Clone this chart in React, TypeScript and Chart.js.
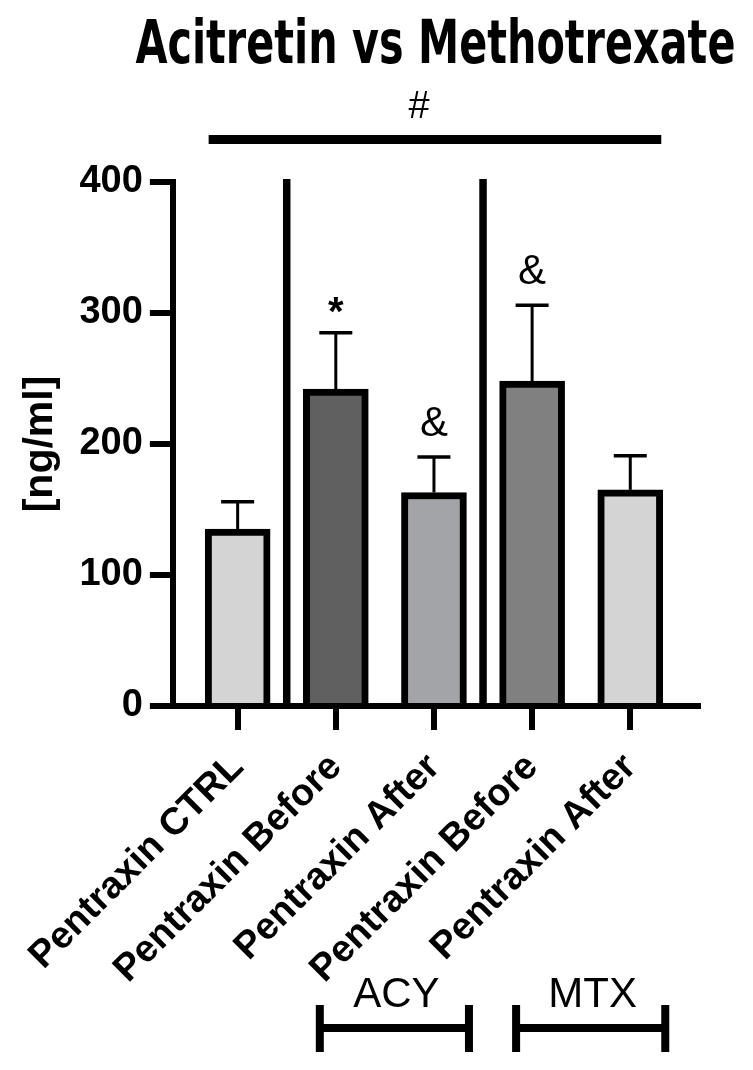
import React, { useEffect, useRef } from "react";
import { Chart, registerables } from "chart.js";

Chart.register(...registerables);

const categories = [
  "Pentraxin CTRL",
  "Pentraxin Before",
  "Pentraxin After",
  "Pentraxin Before",
  "Pentraxin After",
];
const means = [135, 242, 163, 248, 165];
const errors = [21, 43, 27, 58, 26];
const markers = ["", "*", "&", "&", ""];
const yTicks = [0, 100, 200, 300, 400];
const barColors = ["#d4d4d4", "#606060", "#a3a4a8", "#808080", "#d4d4d4"];
const separators = [0.5, 2.5];
const groups = [
  { label: "ACY", from: 1, to: 2 },
  { label: "MTX", from: 3, to: 4 },
];
const overallMark = "#";
const titleText = "Acitretin vs Methotrexate";
const yTitle = "[ng/ml]";

const SANS = '"Liberation Sans", Arial, sans-serif';
const NARROW = '"Liberation Sans Narrow", "Arial Narrow", "DejaVu Sans Condensed", sans-serif';

const overlayPlugin = {
  id: "overlay",
  afterDatasetsDraw(chart: any) {
    const ctx = chart.ctx;
    const xs = chart.scales.x;
    const ys = chart.scales.y;
    const area = chart.chartArea;
    const meta = chart.getDatasetMeta(0);
    ctx.save();
    ctx.strokeStyle = "#000";
    ctx.fillStyle = "#000";
    ctx.lineCap = "butt";

    // title (real text, condensed face fitted to the reference width)
    ctx.save();
    ctx.font = `bold 60px ${NARROW}`;
    ctx.textAlign = "center";
    ctx.textBaseline = "alphabetic";
    const w = ctx.measureText(titleText).width || 1;
    const sx = 600 / w;
    ctx.translate((area.left + area.right) / 2, 63);
    ctx.scale(sx, 1);
    ctx.fillText(titleText, 0, 0);
    ctx.restore();

    // separators
    ctx.lineWidth = 7.5;
    separators.forEach((s) => {
      const px = xs.getPixelForValue(s);
      ctx.beginPath();
      ctx.moveTo(px, area.top - 3);
      ctx.lineTo(px, area.bottom);
      ctx.stroke();
    });

    // error bars + markers
    means.forEach((m, i) => {
      const bar = meta.data[i];
      const px = bar.x;
      const top = ys.getPixelForValue(m + errors[i]);
      ctx.lineWidth = 3;
      ctx.beginPath();
      ctx.moveTo(px, bar.y);
      ctx.lineTo(px, top);
      ctx.stroke();
      ctx.lineWidth = 3.5;
      ctx.beginPath();
      ctx.moveTo(px - 16.5, top);
      ctx.lineTo(px + 16.5, top);
      ctx.stroke();
      const mk = markers[i];
      if (mk) {
        ctx.textAlign = "center";
        ctx.textBaseline = "alphabetic";
        if (mk === "*") {
          ctx.font = `bold 40px ${SANS}`;
          ctx.fillText(mk, px, top - 8);
        } else {
          ctx.font = `42px ${SANS}`;
          ctx.fillText(mk, px, top - 21);
        }
      }
    });

    // overall comparison line with '#'
    const x0 = xs.getPixelForValue(0) - 29;
    const x1 = xs.getPixelForValue(categories.length - 1) + 31;
    ctx.lineWidth = 9;
    ctx.beginPath();
    ctx.moveTo(x0, 139.5);
    ctx.lineTo(x1, 139.5);
    ctx.stroke();
    ctx.font = `38px ${SANS}`;
    ctx.textAlign = "center";
    ctx.textBaseline = "alphabetic";
    ctx.fillText(overallMark, (x0 + x1) / 2 - 16, 118);

    // group brackets
    groups.forEach((g) => {
      const a = xs.getPixelForValue(g.from) - 16;
      const b = xs.getPixelForValue(g.to) + 35;
      ctx.lineWidth = 8;
      ctx.beginPath();
      ctx.moveTo(a, 1028);
      ctx.lineTo(b, 1028);
      ctx.moveTo(a, 1005);
      ctx.lineTo(a, 1052);
      ctx.moveTo(b, 1005);
      ctx.lineTo(b, 1052);
      ctx.stroke();
      ctx.font = `42px ${SANS}`;
      ctx.textAlign = "center";
      ctx.fillText(g.label, (a + b) / 2 + 2, 1007);
    });
    ctx.restore();
  },
};

export default function App() {
  const ref = useRef<HTMLCanvasElement | null>(null);
  useEffect(() => {
    document.body.style.margin = "0";
    const canvas = ref.current;
    if (!canvas) return;
    let alive = true;
    const chart = new Chart(canvas, {
      type: "bar",
      data: {
        datasets: [
          {
            data: means.map((v, i) => ({ x: i, y: v })),
            backgroundColor: barColors,
            borderColor: "#000",
            borderWidth: 7,
            borderSkipped: "start",
            barThickness: 65,
          },
        ],
      },
      options: {
        responsive: false,
        animation: false,
        devicePixelRatio: 1,
        layout: { padding: { top: 182, left: 0, right: 55, bottom: 0 } },
        plugins: {
          legend: { display: false },
          tooltip: { enabled: false },
          title: { display: false },
        },
        scales: {
          x: {
            type: "linear",
            offset: false,
            min: -0.66,
            max: 4.69,
            afterBuildTicks: (scale: any) => {
              scale.ticks = categories.map((_, i) => ({ value: i }));
            },
            afterFit: (scale: any) => {
              scale.height = 1070 - 706;
            },
            grid: {
              display: true,
              offset: false,
              drawOnChartArea: false,
              drawTicks: true,
              tickLength: 24,
              lineWidth: 6,
              color: "#000",
            },
            border: { display: true, width: 6, color: "#000" },
            ticks: {
              autoSkip: false,
              includeBounds: false,
              maxRotation: 45,
              minRotation: 45,
              padding: 15,
              color: "#000",
              font: { family: SANS, size: 38, weight: "bold" },
              callback: (v: any) => categories[v] ?? "",
            },
          },
          y: {
            min: 0,
            max: 400,
            afterBuildTicks: (scale: any) => {
              scale.ticks = yTicks.map((v) => ({ value: v }));
            },
            afterFit: (scale: any) => {
              scale.width = 171;
            },
            grid: {
              display: true,
              drawOnChartArea: false,
              drawTicks: true,
              tickLength: 23,
              lineWidth: 6,
              color: "#000",
            },
            border: { display: true, width: 6, color: "#000" },
            ticks: {
              padding: 7,
              color: "#000",
              font: { family: SANS, size: 38, weight: "bold" },
            },
            title: {
              display: true,
              text: yTitle,
              color: "#000",
              font: { family: SANS, size: 41, weight: "bold" },
              padding: { top: 14, bottom: 0 },
            },
          },
        },
      },
      plugins: [overlayPlugin],
    });
    const fonts = [
      'bold 60px "Liberation Sans Narrow"',
      'bold 38px "Liberation Sans"',
      '42px "Liberation Sans"',
    ];
    if ((document as any).fonts && (document as any).fonts.load) {
      Promise.all(fonts.map((f) => (document as any).fonts.load(f)))
        .catch(() => null)
        .then(() => {
          if (alive) chart.update();
        });
    }
    return () => {
      alive = false;
      chart.destroy();
    };
  }, []);
  return (
    <div style={{ width: 753, height: 1070, background: "#fff" }}>
      <canvas ref={ref} width={753} height={1070} style={{ display: "block" }} />
    </div>
  );
}
